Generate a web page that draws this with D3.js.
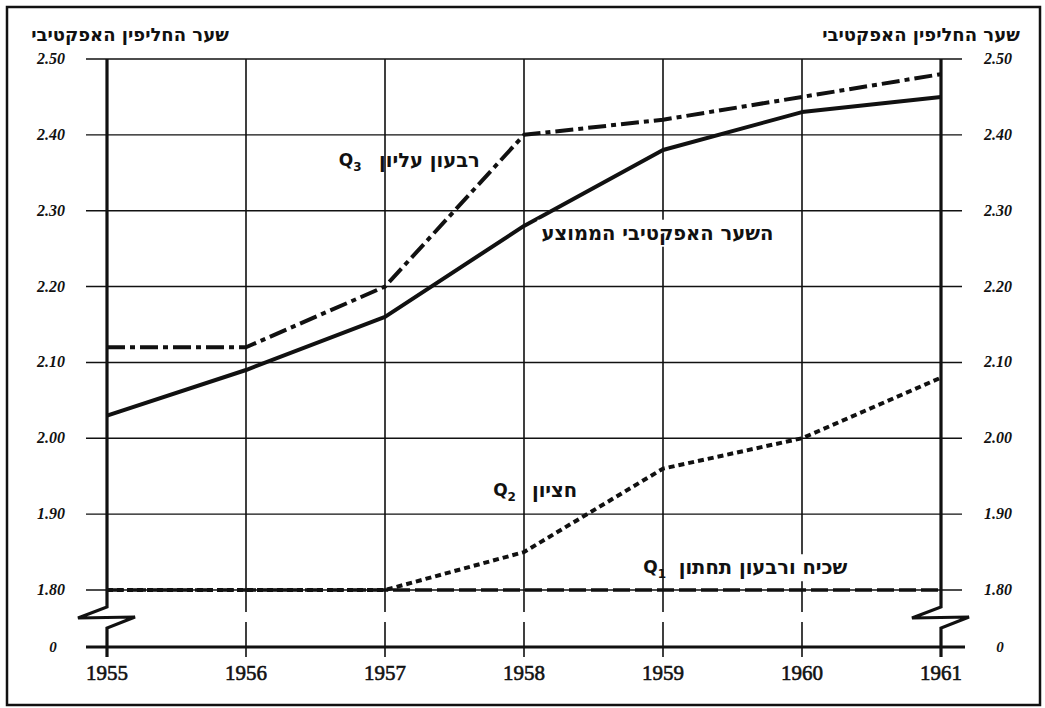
<!DOCTYPE html>
<html>
<head>
<meta charset="utf-8">
<script src="https://cdn.jsdelivr.net/npm/d3@7"></script>
<style>
  body { margin: 0; background: #fff; }
  text { fill: #111; }
</style>
</head>
<body>
<script>
const W = 1045, H = 708

const years = [1955, 1956, 1957, 1958, 1959, 1960, 1961]
const meanRate = [2.03, 2.09, 2.16, 2.28, 2.38, 2.43, 2.45]
const q3Rate = [2.12, 2.12, 2.20, 2.40, 2.42, 2.45, 2.48]
const medianRate = [1.80, 1.80, 1.80, 1.85, 1.96, 2.00, 2.08]
const q1Rate = [1.80, 1.80, 1.80, 1.80, 1.80, 1.80, 1.80]
const yTicks = [1.80, 1.90, 2.00, 2.10, 2.20, 2.30, 2.40, 2.50]
const yTickLabels = ['1.80', '1.90', '2.00', '2.10', '2.20', '2.30', '2.40', '2.50']
const axisTitle = 'שער החליפין האפקטיבי'
// labels placed in data units (year, rate)
const seriesLabels = [
    { he: 'רבעון עליון', sub: '3', heX: 1957.32, qX: 1956.75, v: 2.367, bg: false },
    { he: 'השער האפקטיבי הממוצע', sub: null, heX: 1958.96, qX: null, v: 2.271, bg: true },
    { he: 'חציון', sub: '2', heX: 1958.22, qX: 1957.86, v: 1.932, bg: true },
    { he: 'שכיח ורבעון תחתון', sub: '1', heX: 1959.72, qX: 1958.94, v: 1.830, bg: true }
]

const x = d3.scaleLinear().domain([1955, 1961]).range([107, 941])
const y = d3.scaleLinear().domain([1.80, 2.50]).range([590, 59])
const zeroY = y(1.725)   // the broken axis puts 0 here

const svg = d3.select('body').append('svg')
    .attr('width', W)
    .attr('height', H)

// frame
svg.append('rect')
    .attr('x', 7).attr('y', 7)
    .attr('width', 1033).attr('height', 698)
    .attr('fill', 'none')
    .attr('stroke', '#111')
    .attr('stroke-width', 2.5)

const g = svg.append('g')

// horizontal grid
g.selectAll('.hgrid')
    .data(yTicks)
    .enter()
    .append('line')
        .attr('x1', x(1955) - 21)
        .attr('x2', x(1961) + 21)
        .attr('y1', d => y(d))
        .attr('y2', d => y(d))
        .attr('stroke', '#111')
        .attr('stroke-width', 1.4)

// zero line
g.append('line')
    .attr('x1', x(1955) - 21)
    .attr('x2', x(1961) + 24)
    .attr('y1', zeroY)
    .attr('y2', zeroY)
    .attr('stroke', '#111')
    .attr('stroke-width', 3)

// inner vertical grid, broken between 1.80 and 0
const inner = years.slice(1, -1)
g.selectAll('.vgrid')
    .data(inner)
    .enter()
    .append('path')
        .attr('d', d => `M${x(d)},${y(2.5)}V${y(1.8) + 22}M${x(d)},${y(1.8) + 32}V${zeroY + 10}`)
        .attr('stroke', '#111')
        .attr('stroke-width', 1.6)
        .attr('fill', 'none')

// outer axes with break zigzag
g.selectAll('.axisline')
    .data([1955, 1961])
    .enter()
    .append('path')
        .attr('d', d => {
            const xx = x(d), b = y(1.8)
            return `M${xx},${y(2.5)}V${b + 17}L${xx - 29},${b + 28}L${xx + 28},${b + 27}L${xx},${b + 38}V${zeroY + 10}`
        })
        .attr('stroke', '#111')
        .attr('stroke-width', 3.2)
        .attr('stroke-linejoin', 'miter')
        .attr('fill', 'none')

// y tick labels, both sides
const tickFont = '"Liberation Serif", serif'
;[51, 998].forEach(function(lx) {
    g.selectAll(null)
        .data(yTicks)
        .enter()
        .append('text')
            .attr('x', lx)
            .attr('y', d => y(d) + 5)
            .attr('text-anchor', 'middle')
            .attr('font-family', tickFont)
            .attr('font-style', 'italic')
            .attr('font-weight', 'bold')
            .attr('font-size', 16)
            .text((d, i) => yTickLabels[i])
    g.append('text')
        .attr('x', lx + 2)
        .attr('y', zeroY + 5)
        .attr('text-anchor', 'middle')
        .attr('font-family', tickFont)
        .attr('font-style', 'italic')
        .attr('font-weight', 'bold')
        .attr('font-size', 15)
        .text('0')
})

// year labels
g.selectAll('.year')
    .data(years)
    .enter()
    .append('text')
        .attr('x', d => x(d))
        .attr('y', zeroY + 33)
        .attr('text-anchor', 'middle')
        .attr('font-family', tickFont)
        .attr('font-size', 21)
        .attr('stroke', '#111')
        .attr('stroke-width', 0.6)
        .text(d => d)

// axis titles
;[130, 921].forEach(function(cx) {
    svg.append('text')
        .attr('x', cx)
        .attr('y', 41)
        .attr('text-anchor', 'middle')
        .attr('font-family', '"DejaVu Sans", sans-serif')
        .attr('font-weight', 'bold')
        .attr('font-size', 18)
        .text(axisTitle)
})

// series
const line = d3.line()
    .x((d, i) => x(years[i]))
    .y(d => y(d))

const series = [
    { values: q1Rate, width: 3.6, dash: '17,5' },
    { values: medianRate, width: 4, dash: '6,4' },
    { values: q3Rate, width: 4, dash: '18,5,5,5' },
    { values: meanRate, width: 4, dash: null }
]

g.selectAll('.series')
    .data(series)
    .enter()
    .append('path')
        .attr('d', d => line(d.values))
        .attr('fill', 'none')
        .attr('stroke', '#111')
        .attr('stroke-width', d => d.width)
        .attr('stroke-dasharray', d => d.dash)
        .attr('stroke-linejoin', 'round')

// series labels
const lab = g.selectAll('.lab')
    .data(seriesLabels)
    .enter()
    .append('g')

lab.append('text')
    .attr('class', 'he')
    .attr('x', d => x(d.heX))
    .attr('y', d => y(d.v) + 7)
    .attr('text-anchor', 'middle')
    .attr('font-family', '"DejaVu Sans", sans-serif')
    .attr('font-weight', 'bold')
    .attr('font-size', 19.5)
    .text(d => d.he)

lab.each(function(d) {
    if (!d.bg) return
    const t = d3.select(this).select('text.he').node().getBBox()
    d3.select(this).insert('rect', 'text')
        .attr('x', t.x - 4).attr('y', t.y - 2)
        .attr('width', t.width + 8).attr('height', t.height + 4)
        .attr('fill', '#fff')
})

const q = lab.filter(d => d.sub)
    .append('text')
        .attr('x', d => x(d.qX))
        .attr('y', d => y(d.v) + 6)
        .attr('text-anchor', 'middle')
        .attr('font-family', '"DejaVu Sans", sans-serif')
        .attr('font-weight', 'bold')
        .attr('font-size', 17)
q.append('tspan').text('Q')
q.append('tspan')
    .attr('font-size', 12)
    .attr('dy', 5)
    .text(d => d.sub)
</script>
</body>
</html>
